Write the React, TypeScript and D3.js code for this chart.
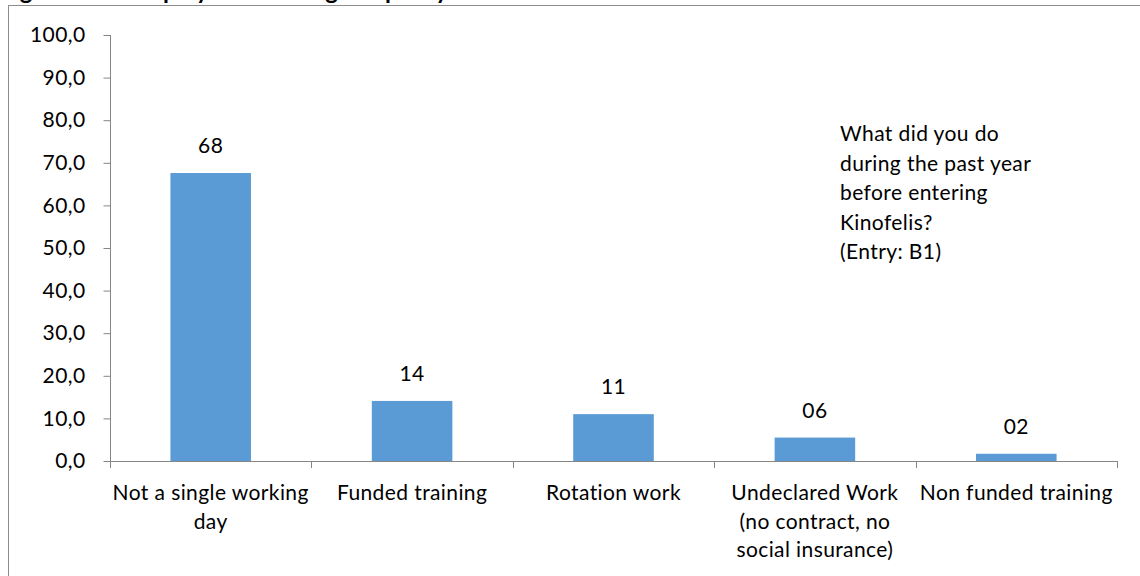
import { useEffect, useRef } from "react";
import * as d3 from "d3";

const CATEGORIES = [
  "Not a single working day",
  "Funded training",
  "Rotation work",
  "Undeclared Work (no contract, no social insurance)",
  "Non funded training",
];
// how Excel wrapped each category label
const CATEGORY_LINES = [
  ["Not a single working", "day"],
  ["Funded training"],
  ["Rotation work"],
  ["Undeclared Work", "(no contract, no", "social insurance)"],
  ["Non funded training"],
];
const VALUES = [67.6, 14.1, 11.0, 5.5, 1.7];
const VALUE_LABELS = ["68", "14", "11", "06", "02"];
const Y_TICKS = [0, 10, 20, 30, 40, 50, 60, 70, 80, 90, 100];
const NOTE_LINES = [
  "What did you do",
  "during the past year",
  "before entering",
  "Kinofelis?",
  "(Entry: B1)",
];
const TITLE = "Figure 1: Unemployment during the past year";

const W = 1140;
const H = 576;
const FONT = "Lato, 'Open Sans', sans-serif";
const FS = 21;
const LS = "0.4px";

export default function App() {
  const svgRef = useRef<SVGSVGElement>(null);

  useEffect(() => {
    if (!svgRef.current) return;
    const svg = d3.select(svgRef.current);
    svg.selectAll("*").remove();

    const plot = { left: 110, right: 1117, top: 35, bottom: 461 };
    const axisColor = "#868686";

    const x = d3
      .scaleBand<string>()
      .domain(CATEGORIES)
      .range([plot.left, plot.right])
      .padding(0);
    const y = d3.scaleLinear().domain([0, 100]).range([plot.bottom, plot.top]);
    const barW = x.bandwidth() * 0.4;

    // cropped title, only its descenders show
    svg
      .append("text")
      .attr("x", 0)
      .attr("y", -1)
      .attr("font-family", FONT)
      .attr("font-weight", "bold")
      .attr("font-size", 24)
      .attr("fill", "#000")
      .text(TITLE);

    // chart frame (runs off the page right and bottom)
    svg
      .append("rect")
      .attr("x", 8.5)
      .attr("y", 5.5)
      .attr("width", W + 20)
      .attr("height", H + 20)
      .attr("fill", "none")
      .attr("stroke", "#8c8c8c")
      .attr("stroke-width", 1);

    const g = svg.append("g");

    // bars
    g.selectAll("rect.bar")
      .data(VALUES)
      .enter()
      .append("rect")
      .attr("class", "bar")
      .attr("x", (_, i) => x(CATEGORIES[i])! + (x.bandwidth() - barW) / 2)
      .attr("y", (d) => y(d))
      .attr("width", barW)
      .attr("height", (d) => y(0) - y(d))
      .attr("fill", "#5B9BD5");

    // value labels
    g.selectAll("text.val")
      .data(VALUES)
      .enter()
      .append("text")
      .attr("class", "val")
      .attr("x", (_, i) => x(CATEGORIES[i])! + x.bandwidth() / 2)
      .attr("y", (d) => y(d) - 20)
      .attr("text-anchor", "middle")
      .attr("font-family", FONT)
      .attr("font-size", FS)
      .attr("letter-spacing", LS)
      .attr("fill", "#000")
      .text((_, i) => VALUE_LABELS[i]);

    // y axis
    const yAxis = g
      .append("g")
      .attr("transform", `translate(${plot.left + 0.5},0)`)
      .call(
        d3
          .axisLeft(y)
          .tickValues(Y_TICKS)
          .tickSize(7)
          .tickPadding(18)
          .tickFormat((d) => d3.format(".1f")(d as number).replace(".", ","))
      );
    yAxis.select(".domain").attr("stroke", axisColor).attr("d", `M0,${plot.top}V${plot.bottom}`);
    yAxis.selectAll(".tick line").attr("stroke", axisColor);
    yAxis
      .selectAll(".tick text")
      .attr("font-family", FONT)
      .attr("font-size", FS)
      .attr("letter-spacing", LS)
      .attr("fill", "#000");

    // x axis line with boundary ticks
    const xg = g.append("g");
    xg.append("line")
      .attr("x1", plot.left)
      .attr("x2", plot.right)
      .attr("y1", plot.bottom + 0.5)
      .attr("y2", plot.bottom + 0.5)
      .attr("stroke", axisColor);
    const bounds = CATEGORIES.map((c) => x(c)!).concat([plot.right]);
    xg.selectAll("line.tick")
      .data(bounds)
      .enter()
      .append("line")
      .attr("class", "tick")
      .attr("x1", (d) => Math.round(d) + 0.5)
      .attr("x2", (d) => Math.round(d) + 0.5)
      .attr("y1", plot.bottom)
      .attr("y2", plot.bottom + 7)
      .attr("stroke", axisColor);

    // category labels
    CATEGORIES.forEach((c, i) => {
      const t = xg
        .append("text")
        .attr("x", x(c)! + x.bandwidth() / 2)
        .attr("y", 500)
        .attr("text-anchor", "middle")
        .attr("font-family", FONT)
        .attr("font-size", FS)
        .attr("letter-spacing", LS)
        .attr("fill", "#000");
      CATEGORY_LINES[i].forEach((line, j) => {
        t.append("tspan")
          .attr("x", x(c)! + x.bandwidth() / 2)
          .attr("dy", j === 0 ? 0 : 28.5)
          .text(line);
      });
    });

    // note text box
    const note = svg
      .append("text")
      .attr("x", 840)
      .attr("y", 141)
      .attr("font-family", FONT)
      .attr("font-size", FS)
      .attr("letter-spacing", LS)
      .attr("fill", "#000");
    NOTE_LINES.forEach((line, j) => {
      note.append("tspan").attr("x", 840).attr("dy", j === 0 ? 0 : 29.5).text(line);
    });
  }, []);

  return (
    <div style={{ position: "fixed", left: 0, top: 0, width: W, height: H, background: "#fff" }}>
      <svg ref={svgRef} width={W} height={H} style={{ display: "block" }} />
    </div>
  );
}
